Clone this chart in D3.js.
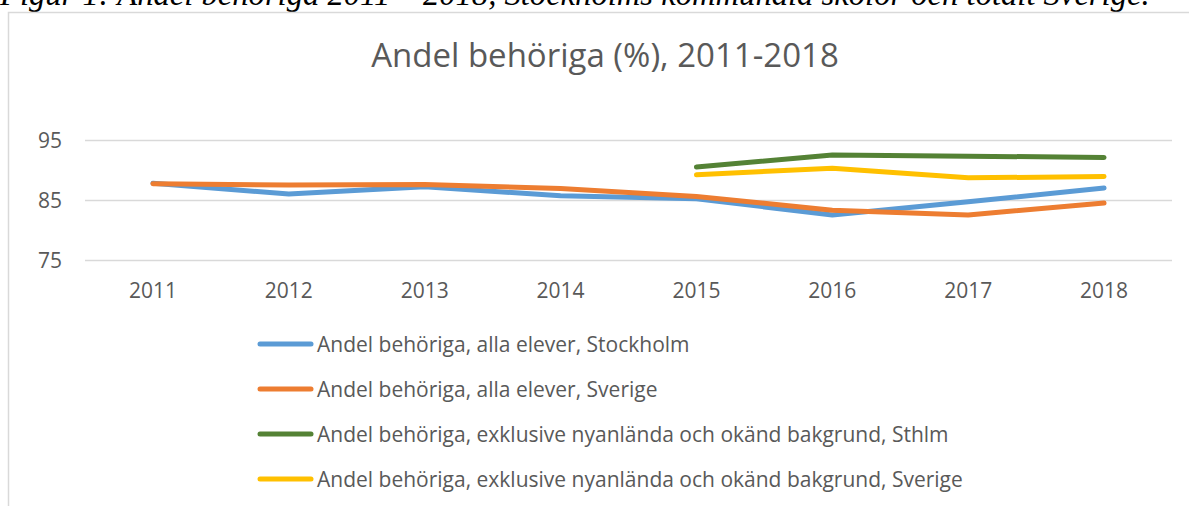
<!DOCTYPE html>
<html>
<head>
<meta charset="utf-8">
<script src="https://cdn.jsdelivr.net/npm/d3@7"></script>
<style>
  body { margin: 0; background: #fff; }
  svg { display: block; }
</style>
</head>
<body>
<div id="chart"></div>
<script>
// data
const years = ["2011", "2012", "2013", "2014", "2015", "2016", "2017", "2018"];
const sthlmAll = [87.8, 86.0, 87.2, 85.7, 85.2, 82.5, 84.7, 87.0];
const sverigeAll = [87.7, 87.5, 87.6, 86.9, 85.6, 83.3, 82.5, 84.5];
const sthlmExkl = [null, null, null, null, 90.5, 92.5, 92.3, 92.1];
const sverigeExkl = [null, null, null, null, 89.2, 90.3, 88.7, 88.9];
const yTicks = [75, 85, 95];

const seriesNames = [
  "Andel behöriga, alla elever, Stockholm",
  "Andel behöriga, alla elever, Sverige",
  "Andel behöriga, exklusive nyanlända och okänd bakgrund, Sthlm",
  "Andel behöriga, exklusive nyanlända och okänd bakgrund, Sverige"
];
const seriesValues = [sthlmAll, sverigeAll, sthlmExkl, sverigeExkl];
const seriesColors = ["#5B9BD5", "#ED7D31", "#548235", "#FFC000"];

const width = 1189, height = 506;
const textColor = "#595959";
const font = "Open Sans, Noto Sans, sans-serif";

const svg = d3.select("#chart").append("svg")
    .attr("width", width)
    .attr("height", height);

// caption above the chart frame (cut off at the top)
const caption = svg.append("text")
    .attr("x", 0)
    .attr("y", 5)
    .attr("font-family", "Liberation Serif, Times New Roman, serif")
    .attr("font-style", "italic")
    .attr("font-size", 30)
    .attr("fill", "#000")
    .text("Figur 1: Andel behöriga 2011 – 2018, Stockholms kommunala skolor och totalt Sverige.");
var cw = caption.node().getComputedTextLength();
caption.attr("font-size", 30 * 1150 / cw);

// chart frame
svg.append("path")
    .attr("d", `M8.5,${height}V12.5H${width}`)
    .attr("fill", "none")
    .attr("stroke", "#d9d9d9")
    .attr("stroke-width", 1.5);

svg.append("text")
    .attr("x", 605)
    .attr("y", 67)
    .attr("text-anchor", "middle")
    .attr("font-family", font)
    .attr("font-size", 33)
    .attr("fill", textColor)
    .text("Andel behöriga (%), 2011-2018");

const x = d3.scaleBand().domain(years).range([85, 1172]);
const y = d3.scaleLinear().domain([75, 95]).range([260, 140]);

// gridlines
svg.append("g")
  .selectAll("line")
  .data(yTicks)
  .join("line")
    .attr("x1", 85)
    .attr("x2", 1172)
    .attr("y1", d => Math.round(y(d)) + 0.5)
    .attr("y2", d => Math.round(y(d)) + 0.5)
    .attr("stroke", "#d9d9d9")
    .attr("stroke-width", 1.5);

svg.append("g")
  .selectAll("text")
  .data(yTicks)
  .join("text")
    .attr("x", 62)
    .attr("y", d => y(d))
    .attr("dy", "0.36em")
    .attr("text-anchor", "end")
    .attr("font-family", font)
    .attr("font-size", 21)
    .attr("fill", textColor)
    .text(d => d);

svg.append("g")
  .selectAll("text")
  .data(years)
  .join("text")
    .attr("x", d => x(d) + x.bandwidth() / 2)
    .attr("y", 298)
    .attr("text-anchor", "middle")
    .attr("font-family", font)
    .attr("font-size", 21)
    .attr("fill", textColor)
    .text(d => d);

const line = d3.line()
    .defined(d => d != null)
    .x((d, i) => x(years[i]) + x.bandwidth() / 2)
    .y(d => y(d));

svg.append("g")
  .selectAll("path")
  .data(seriesValues)
  .join("path")
    .attr("d", d => line(d))
    .attr("fill", "none")
    .attr("stroke", (d, i) => seriesColors[i])
    .attr("stroke-width", 5)
    .attr("stroke-linecap", "round")
    .attr("stroke-linejoin", "round");

// legend
const legend = svg.append("g")
  .selectAll("g")
  .data(seriesNames)
  .join("g")
    .attr("transform", (d, i) => `translate(0,${344 + i * 45})`);

legend.append("line")
    .attr("x1", 260)
    .attr("x2", 311)
    .attr("stroke", (d, i) => seriesColors[i])
    .attr("stroke-width", 5)
    .attr("stroke-linecap", "round");

legend.append("text")
    .attr("x", 317)
    .attr("dy", "0.36em")
    .attr("font-family", font)
    .attr("font-size", 21)
    .attr("fill", textColor)
    .text(d => d);
</script>
</body>
</html>
